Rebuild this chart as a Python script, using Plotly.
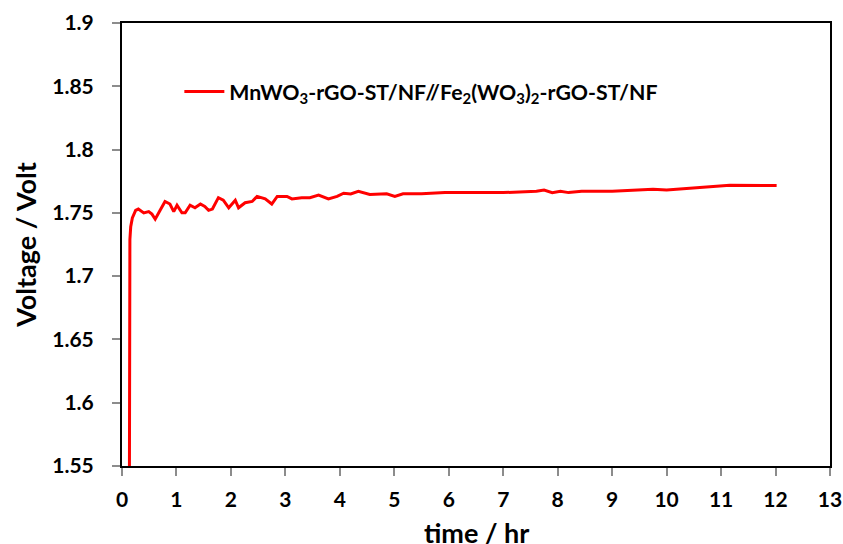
import plotly.graph_objects as go

time_hr = [0.134, 0.134, 0.145, 0.145, 0.16, 0.19, 0.25, 0.30, 0.40, 0.49, 0.55, 0.61, 0.70,
           0.79, 0.88, 0.95, 1.01, 1.10, 1.16, 1.25, 1.34, 1.44, 1.52, 1.59, 1.66, 1.77,
           1.86, 1.96, 2.08, 2.14, 2.26, 2.39, 2.48, 2.63, 2.75, 2.85, 3.03, 3.12, 3.30,
           3.45, 3.61, 3.79, 3.95, 4.07, 4.20, 4.34, 4.55, 4.86, 5.01, 5.16, 5.50, 5.93,
           6.5, 7.0, 7.61, 7.75, 7.9, 8.05, 8.2, 8.44, 9.0, 9.75, 10.0, 10.61, 11.16, 12.02]
voltage = [1.50, 1.639, 1.647, 1.729, 1.739, 1.746, 1.752, 1.753, 1.750, 1.751, 1.749, 1.745,
           1.752, 1.759, 1.757, 1.751, 1.756, 1.750, 1.750, 1.756, 1.754, 1.757, 1.755, 1.752,
           1.753, 1.762, 1.760, 1.754, 1.760, 1.754, 1.758, 1.759, 1.763, 1.761, 1.757, 1.763,
           1.763, 1.761, 1.762, 1.762, 1.764, 1.761, 1.763, 1.7655, 1.765, 1.767, 1.7646, 1.765,
           1.763, 1.765, 1.765, 1.766, 1.766, 1.766, 1.767, 1.768, 1.766, 1.767, 1.766, 1.767,
           1.767, 1.7687, 1.768, 1.770, 1.7719, 1.7716]

series_name = "MnWO<sub>3</sub>-rGO-ST/NF//Fe<sub>2</sub>(WO<sub>3</sub>)<sub>2</sub>-rGO-ST/NF"

x_ticks = list(range(0, 14))
y_ticks = [1.55, 1.6, 1.65, 1.7, 1.75, 1.8, 1.85, 1.9]
y_tick_text = ["1.55", "1.6", "1.65", "1.7", "1.75", "1.8", "1.85", "1.9"]

FONT = "Lato"
tick_font = dict(family=FONT, size=21, color="#000", weight="bold")

fig = go.Figure()
fig.add_trace(go.Scatter(x=time_hr, y=voltage, mode="lines", name=series_name,
                         line=dict(color="#ff0000", width=3)))

axis_common = dict(showline=True, linecolor="black", linewidth=2, mirror=True,
                   showgrid=False, zeroline=False, ticks="outside", ticklen=8,
                   tickcolor="#8c8c8c", tickwidth=1.5, automargin=False,
                   ticklabeloverflow="allow", tickfont=tick_font)

fig.update_layout(
    width=843, height=544,
    margin=dict(l=122, r=13, t=23, b=77.5),
    paper_bgcolor="white", plot_bgcolor="white",
    font=dict(family=FONT, color="#000"),
    xaxis=dict(range=[0, 13], tickvals=x_ticks, ticklabelstandoff=6, **axis_common),
    yaxis=dict(range=[1.55, 1.9], tickvals=y_ticks, ticktext=y_tick_text, ticklabelstandoff=14,
               title=dict(text="<b>Voltage / Volt</b>", font=dict(family=FONT, size=27), standoff=8),
               **axis_common),
    showlegend=True,
    legend=dict(x=0.081, y=0.845, xanchor="left", yanchor="middle",
                bgcolor="rgba(0,0,0,0)",
                font=dict(family=FONT, size=21.3, color="#000", weight="bold"),
                itemwidth=40),
    annotations=[dict(text="<b>time / hr</b>", xref="paper", yref="paper", x=0.5, y=0,
                      xanchor="center", yanchor="middle", yshift=-66.5, showarrow=False,
                      font=dict(family=FONT, size=27, color="#000"))],
)

fig.write_html("out.html", default_width="843px", default_height="544px",
               config={"displayModeBar": False},
               post_script="document.body.style.margin='0';document.body.style.overflow='hidden';")
